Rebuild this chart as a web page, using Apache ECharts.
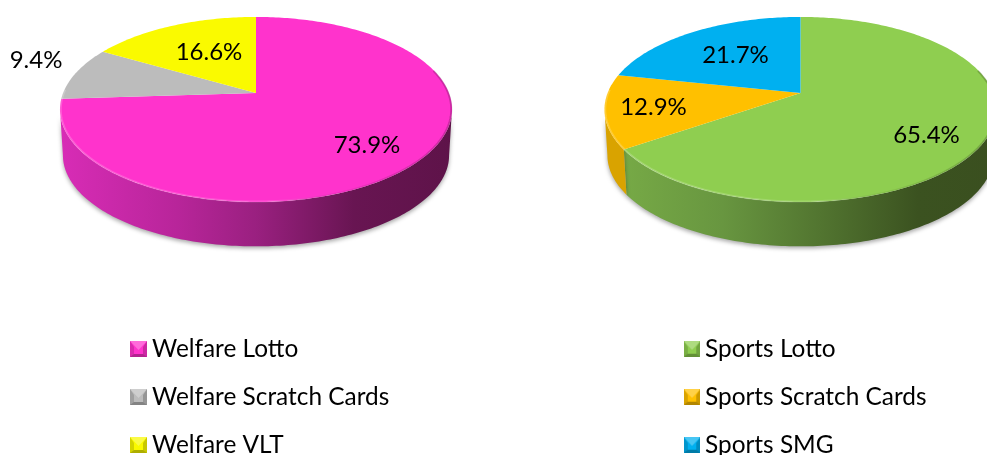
<!DOCTYPE html>
<html>
<head>
<meta charset="utf-8">
<title>Lottery sales share</title>
<script src="https://cdn.jsdelivr.net/npm/echarts@6/dist/echarts.min.js"></script>
<style>
  html, body { margin: 0; padding: 0; background: #fff; }
  #chart { width: 987px; height: 455px; }
</style>
</head>
<body>
<div id="chart"></div>
<script>
// data
const welfareNames = ['Welfare Lotto', 'Welfare Scratch Cards', 'Welfare VLT'];
const welfareValues = [73.9, 9.4, 16.6];
const sportsNames = ['Sports Lotto', 'Sports Scratch Cards', 'Sports SMG'];
const sportsValues = [65.4, 12.9, 21.7];

const FONT = 'Lato, sans-serif';
const LABEL_SIZE = 24;
const LEGEND_SIZE = 24.4;

// perspective of the disc, the hub sits above the middle of the ellipse
const W = 192.9, B = 89.6, K = 0.178;
const DEPTH = 46, BASE_SCALE = 0.985;
const WALL_FROM = 100.3, WALL_TO = 259.7; // clockwise from 12 o'clock, visible side

const pies = [
  {
    cx: 256, cy: 93, names: welfareNames, values: welfareValues,
    colors: ['#ff33cc', '#bcbcbc', '#fafa00'],
    walls: [[0, '#d82cb6'], [0.3, '#b8259a'], [0.5, '#9a2080'], [0.75, '#681552'], [1, '#5e1349']],
    sideColors: [null, '#9a9a9a', '#cccc00'],
    labelOffsets: [[111, 52], [-220, -33], [-47, -41]],
    legendLeft: 130, legendIcon: 17
  },
  {
    cx: 800.5, cy: 93, names: sportsNames, values: sportsValues,
    colors: ['#8fce50', '#ffc000', '#00b0f0'],
    walls: [[0, '#79ad47'], [0.3, '#689640'], [0.55, '#527530'], [0.8, '#3b5220'], [1, '#3a4f1f']],
    sideColors: [null, '#d9a300', '#0090c8'],
    labelOffsets: [[126, 42], [-147, 14], [-65, -38]],
    legendLeft: 684, legendIcon: 16
  }
];

// point on the rim (r = 1) or inside the disc for an angle in degrees
function project(pie, deg, r, scale, drop) {
  const a = deg * Math.PI / 180;
  const u = Math.sin(a) * r, v = -Math.cos(a) * r;
  const d = 1 - K * v;
  return [pie.cx + scale * W * u / d, pie.cy + drop + scale * B * v / d];
}

function rim(pie, from, to, scale, drop) {
  const pts = [];
  const n = Math.max(2, Math.ceil(Math.abs(to - from)));
  for (let i = 0; i <= n; i++) {
    pts.push(project(pie, from + (to - from) * i / n, 1, scale, drop));
  }
  return pts;
}

function horizontal(pie, stops) {
  return {
    type: 'linear', global: true,
    x: pie.cx - 196, y: 0, x2: pie.cx + 196, y2: 0,
    colorStops: stops.map(s => ({ offset: s[0], color: s[1] }))
  };
}

const rimLight = [[0, 'rgba(255,255,255,0.2)'], [0.55, 'rgba(255,255,255,0.15)'], [0.72, 'rgba(0,0,0,0.06)'], [1, 'rgba(0,0,0,0.2)']];

// pillow legend marker, painted once per colour
function pillow(color) {
  const c = document.createElement('canvas');
  c.width = 34; c.height = 32;
  const g = c.getContext('2d');
  const m = 8;
  g.fillStyle = color;
  g.fillRect(0, 0, 34, 32);
  const face = (pts, fill) => {
    g.fillStyle = fill;
    g.beginPath();
    pts.forEach((p, i) => i ? g.lineTo(p[0], p[1]) : g.moveTo(p[0], p[1]));
    g.closePath();
    g.fill();
  };
  face([[0, 0], [34, 0], [17, 18]], 'rgba(255,255,255,0.28)');
  face([[0, 0], [0, 32], [m, 26], [m, 12]], 'rgba(0,0,0,0.15)');
  face([[34, 0], [34, 32], [34 - m, 26], [34 - m, 12]], 'rgba(0,0,0,0.2)');
  face([[0, 32], [34, 32], [34 - m, 26], [m, 26]], 'rgba(0,0,0,0.3)');
  return 'image://' + c.toDataURL();
}

function sliceSeries(pie, idx) {
  const startPct = pie.values.slice(0, idx).reduce((s, v) => s + v, 0);
  const total = pie.values.reduce((s, v) => s + v, 0);
  return {
    type: 'custom',
    name: pie.names[idx],
    coordinateSystem: 'none',
    silent: true,
    data: [[pie.values[idx]]],
    renderItem: function (params, api) {
      // values run clockwise from 12 o'clock
      const start = startPct / total * 360;
      const end = start + api.value(0) / total * 360;
      const children = [];
      const wFrom = Math.max(start, WALL_FROM), wTo = Math.min(end, WALL_TO);
      if (wTo > wFrom) {
        const top = rim(pie, wFrom, wTo, 1, 0);
        const base = rim(pie, wTo, wFrom, BASE_SCALE, DEPTH);
        children.push({
          type: 'polygon', z2: 1,
          shape: { points: top.concat(base) },
          style: {
            fill: pie.sideColors[idx] || horizontal(pie, pie.walls),
            shadowBlur: 4, shadowOffsetY: 2, shadowColor: 'rgba(0,0,0,0.35)'
          }
        });
      }
      children.push({
        type: 'polygon', z2: 2,
        shape: { points: [[pie.cx, pie.cy]].concat(rim(pie, start, end, 1, 0)) },
        style: { fill: pie.colors[idx] }
      });
      const rFrom = Math.max(start, 75), rTo = Math.min(end, 272);
      if (rTo > rFrom) {
        children.push({
          type: 'polyline', z2: 3,
          shape: { points: rim(pie, rFrom, rTo, 0.996, 0) },
          style: { fill: null, stroke: horizontal(pie, rimLight), lineWidth: 2 }
        });
      }
      const off = pie.labelOffsets[idx];
      children.push({
        type: 'text', z2: 4,
        style: {
          text: api.value(0).toFixed(1) + '%',
          x: pie.cx + off[0], y: pie.cy + off[1],
          fill: '#000', font: LABEL_SIZE + 'px ' + FONT,
          textAlign: 'center', textVerticalAlign: 'middle'
        }
      });
      return { type: 'group', children: children };
    }
  };
}

const series = [];
pies.forEach(pie => pie.values.forEach((v, i) => series.push(sliceSeries(pie, i))));

const chart = echarts.init(document.getElementById('chart'), null, { renderer: 'canvas' });
chart.setOption({
  animation: false,
  backgroundColor: '#fff',
  legend: pies.map(pie => ({
    orient: 'vertical',
    left: pie.legendLeft,
    top: 334,
    height: 200,
    padding: 0,
    itemWidth: pie.legendIcon,
    itemHeight: 16,
    itemGap: 18,
    selectedMode: false,
    textStyle: { fontFamily: FONT, fontSize: LEGEND_SIZE, lineHeight: 30, color: '#000' },
    data: pie.names.map((n, i) => ({ name: n, icon: pillow(pie.colors[i]) }))
  })),
  series: series
});
</script>
</body>
</html>
